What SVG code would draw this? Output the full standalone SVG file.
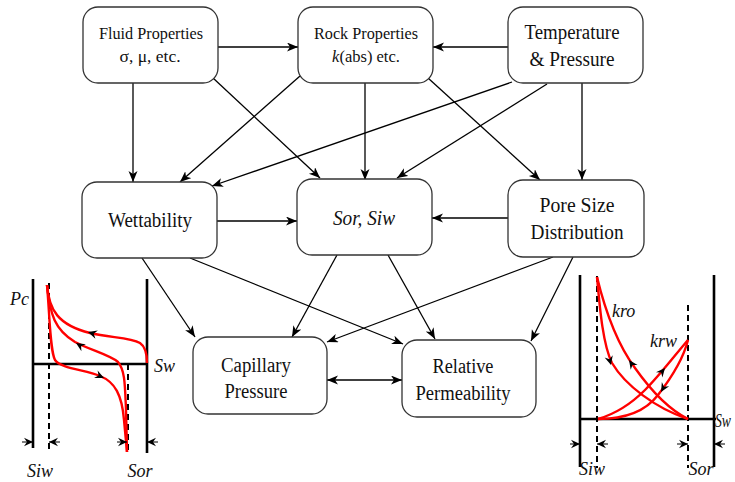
<svg xmlns="http://www.w3.org/2000/svg" width="735" height="482" viewBox="0 0 735 482">
<defs>
<style>
.box{fill:#fff;stroke:#333;stroke-width:1.3}
.t{font-family:"Liberation Serif","Times New Roman",serif;fill:#111;text-anchor:middle}
.lb{font-family:"Liberation Serif","Times New Roman",serif;font-style:italic;font-size:18px;fill:#111}
.edge{fill:none;stroke:#000;stroke-width:1.3;marker-end:url(#ah)}
.ax{stroke:#000;stroke-width:2.6;fill:none}
.dash{stroke:#000;stroke-width:2;stroke-dasharray:6,4;fill:none}
.red{stroke:#f00;stroke-width:2.4;fill:none}
.dim{stroke:#000;stroke-width:1.2;fill:none}
.sa{fill:#000}
</style>
<marker id="ah" markerUnits="userSpaceOnUse" markerWidth="12" markerHeight="10" refX="11" refY="4.5" orient="auto-start-reverse">
<path d="M0,0 L11,4.5 L0,9 L3,4.5 z" fill="#000"/>
</marker>
<path id="sa" d="M0,0 L-9,-4.2 L-6,0 L-9,4.2 z"/>
</defs>

<g id="connectors">
<path class="edge" d="M218,47 L298,47"/>
<path class="edge" d="M508,47 L433,47"/>
<path class="edge" d="M133,83 L133,182"/>
<path class="edge" d="M213,78 L320,178"/>
<path class="edge" d="M300,76 L180,182"/>
<path class="edge" d="M512,82 L212,186"/>
<path class="edge" d="M365,83 L365,180"/>
<path class="edge" d="M547,84 L397,178"/>
<path class="edge" d="M428,78 L540,180"/>
<path class="edge" d="M582,83 L582,180"/>
<path class="edge" d="M217,221 L297,221"/>
<path class="edge" d="M508,218 L432,218"/>
<path class="edge" d="M142,258 L195,337"/>
<path class="edge" d="M190,258 L403,344"/>
<path class="edge" d="M337,255 L292,337"/>
<path class="edge" d="M388,255 L435,339"/>
<path class="edge" d="M553,257 L327,342"/>
<path class="edge" d="M573,257 L531,341"/>
<path class="edge" d="M327,380 L402,380" marker-start="url(#ah)"/>
</g>

<g id="fluid">
<rect class="box" x="83" y="7" width="135" height="76" rx="15"/>
<text class="t" x="151" y="39" font-size="16.5" textLength="104" lengthAdjust="spacingAndGlyphs">Fluid Properties</text>
<text class="t" x="150" y="62" font-size="17.5">σ, μ, etc.</text>
</g>
<g id="rock">
<rect class="box" x="298" y="7" width="135" height="76" rx="15"/>
<text class="t" x="366" y="39" font-size="16.5" textLength="104" lengthAdjust="spacingAndGlyphs">Rock Properties</text>
<text class="t" x="366" y="62" font-size="16.5"><tspan font-style="italic">k</tspan>(abs) etc.</text>
</g>
<g id="temp">
<rect class="box" x="508" y="7" width="135" height="76" rx="15"/>
<text class="t" x="572" y="39" font-size="20" textLength="95" lengthAdjust="spacingAndGlyphs">Temperature</text>
<text class="t" x="572" y="66" font-size="20" textLength="85" lengthAdjust="spacingAndGlyphs">&amp; Pressure</text>
</g>
<g id="wett">
<rect class="box" x="82" y="182" width="135" height="76" rx="15"/>
<text class="t" x="150" y="227" font-size="20" textLength="84" lengthAdjust="spacingAndGlyphs">Wettability</text>
</g>
<g id="sorsiw">
<rect class="box" x="297" y="179" width="135" height="76" rx="15"/>
<text class="t" x="364" y="225" font-size="20" font-style="italic" textLength="62" lengthAdjust="spacingAndGlyphs">Sor, Siw</text>
</g>
<g id="pore">
<rect class="box" x="508" y="180" width="136" height="77" rx="15"/>
<text class="t" x="577" y="212" font-size="20" textLength="75" lengthAdjust="spacingAndGlyphs">Pore Size</text>
<text class="t" x="577" y="239" font-size="20" textLength="93" lengthAdjust="spacingAndGlyphs">Distribution</text>
</g>
<g id="cap">
<rect class="box" x="193" y="337" width="134" height="77" rx="15"/>
<text class="t" x="256" y="372" font-size="20" textLength="70" lengthAdjust="spacingAndGlyphs">Capillary</text>
<text class="t" x="256" y="398" font-size="20" textLength="63" lengthAdjust="spacingAndGlyphs">Pressure</text>
</g>
<g id="relperm">
<rect class="box" x="402" y="340" width="134" height="77" rx="15"/>
<text class="t" x="463" y="373" font-size="20" textLength="61" lengthAdjust="spacingAndGlyphs">Relative</text>
<text class="t" x="463" y="400" font-size="20" textLength="95" lengthAdjust="spacingAndGlyphs">Permeability</text>
</g>

<g id="pc-plot">
<path class="ax" d="M33,279 V448 M147,279 V453 M33,364 H147"/>
<path class="dash" d="M49,283 V453 M128,364 V453"/>
<path class="red" d="M47,285 C49,310 58,325 90,333 C110,338 130,337 140,343 C146,347 147,355 147,363"/>
<path class="red" d="M47,285 C50,315 55,330 75,342 C90,350 110,355 118,362 C125,370 125,385 126,410 L127,452"/>
<path class="red" d="M47,285 C50,320 50,350 55,360 C60,368 85,370 100,376 C115,382 122,395 124,420 L127,452"/>
<use href="#sa" class="sa" transform="translate(88,332) rotate(197)"/>
<use href="#sa" class="sa" transform="translate(76,343) rotate(212)"/>
<use href="#sa" class="sa" transform="translate(104,378) rotate(25)"/>
<path class="dim" d="M22,442 H33 M49,442 H60 M117,442 H127 M147,442 H158"/>
<use href="#sa" class="sa" transform="translate(33,442)"/>
<use href="#sa" class="sa" transform="translate(49,442) rotate(180)"/>
<use href="#sa" class="sa" transform="translate(127,442)"/>
<use href="#sa" class="sa" transform="translate(147,442) rotate(180)"/>
<text class="lb" x="10" y="305">Pc</text>
<text class="lb" x="154" y="372">Sw</text>
<text class="lb" x="40" y="477" text-anchor="middle">Siw</text>
<text class="lb" x="140" y="477" text-anchor="middle">Sor</text>
</g>

<g id="kr-plot">
<path class="ax" d="M580,275 V467 M714,275 V467 M580,419 H716"/>
<path class="dash" d="M597,276 V468 M688,305 V468"/>
<path class="red" d="M597,277 C600,310 603,345 612,363 C625,385 655,408 688,419"/>
<path class="red" d="M597,277 C605,310 618,345 635,368 C652,392 670,410 688,419"/>
<path class="red" d="M598,419 C615,414 630,405 645,390 C660,375 675,355 688,340"/>
<path class="red" d="M598,419 C625,419 645,412 658,395 C672,377 683,360 688,340"/>
<use href="#sa" class="sa" transform="translate(611,365) rotate(75)"/>
<use href="#sa" class="sa" transform="translate(629,360) rotate(235)"/>
<use href="#sa" class="sa" transform="translate(665,368) rotate(-50)"/>
<use href="#sa" class="sa" transform="translate(661,392) rotate(120)"/>
<path class="dim" d="M570,444 H580 M597,444 H608 M677,444 H688 M714,444 H725"/>
<use href="#sa" class="sa" transform="translate(580,444)"/>
<use href="#sa" class="sa" transform="translate(597,444) rotate(180)"/>
<use href="#sa" class="sa" transform="translate(688,444)"/>
<use href="#sa" class="sa" transform="translate(714,444) rotate(180)"/>
<text class="lb" x="612" y="317">kro</text>
<text class="lb" x="650" y="347">krw</text>
<text class="lb" x="715" y="427" font-size="16" textLength="16" lengthAdjust="spacingAndGlyphs">Sw</text>
<text class="lb" x="592" y="475" text-anchor="middle">Siw</text>
<text class="lb" x="701" y="475" text-anchor="middle">Sor</text>
</g>
</svg>
